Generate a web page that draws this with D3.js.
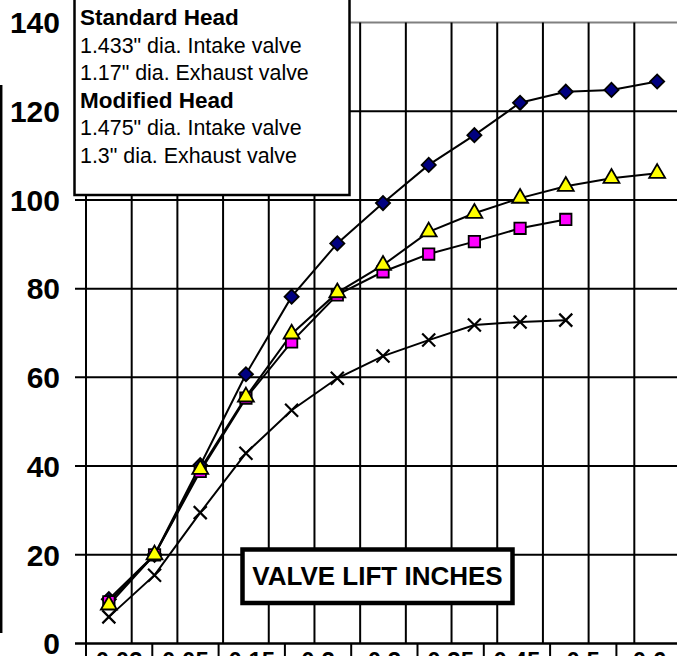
<!DOCTYPE html>
<html>
<head>
<meta charset="utf-8">
<script src="https://cdn.jsdelivr.net/npm/d3@7"></script>
<style>
  body { margin: 0; background: #fff; }
  svg { display: block; font-family: "Liberation Sans", Arial, sans-serif; }
</style>
</head>
<body>
<div id="chart"></div>
<script>
// lift steps (one per grid column)
const steps = ["1", "2", "3", "4", "5", "6", "7", "8", "9", "10", "11", "12", "13"];
// flow values
const diamondVals = [10, 20, 40.2, 60.7, 78.2, 90.2, 99.3, 107.9, 114.6, 121.9, 124.4, 124.8, 126.7];
const squareVals = [9.4, 20, 38.8, 55.3, 68.0, 78.6, 83.8, 87.8, 90.6, 93.6, 95.6];
const triangleVals = [8.7, 20, 39.3, 55.6, 69.8, 79.1, 85.3, 92.8, 97.0, 100.4, 103.1, 104.9, 106.0];
const crossVals = [6.0, 15.4, 29.5, 42.9, 52.6, 59.8, 64.8, 68.4, 71.8, 72.5, 72.9];
const yTicks = [0, 20, 40, 60, 80, 100, 120, 140];
const liftLabels = ["0.03", "0.05", "0.15", "0.2", "0.3", "0.35", "0.45", "0.5", "0.6"];
const legendLines = [
  { text: "Standard Head", bold: true },
  { text: "1.433\" dia. Intake valve", bold: false },
  { text: "1.17\" dia. Exhaust valve", bold: false },
  { text: "Modified Head", bold: true },
  { text: "1.475\" dia. Intake valve", bold: false },
  { text: "1.3\" dia. Exhaust valve", bold: false }
];

const W = 677, H = 656;
const plotLeft = 86, plotRight = 680, plotTop = 22.5, plotBottom = 643.5;

const svg = d3.select("#chart").append("svg")
  .attr("width", W).attr("height", H);
svg.append("rect").attr("width", W).attr("height", H).attr("fill", "#fff");

const x = d3.scaleBand().domain(steps).range([plotLeft, plotRight]);
const y = d3.scaleLinear().domain([0, 140]).range([plotBottom, plotTop]);
const xLab = d3.scaleBand().domain(liftLabels).range([plotLeft, plotLeft + 66.3 * liftLabels.length]);

// odd bar on the far left
svg.append("line").attr("x1", 1.2).attr("x2", 1.2).attr("y1", 85).attr("y2", 633)
  .attr("stroke", "#000").attr("stroke-width", 2.5);

// horizontal grid + ticks
svg.append("g").selectAll("line").data(yTicks.filter(d => d > 0 && d < 140)).join("line")
  .attr("x1", 75).attr("x2", W).attr("y1", d => y(d)).attr("y2", d => y(d))
  .attr("stroke", "#000").attr("stroke-width", 2);

// top border of plot (gray)
svg.append("line").attr("x1", plotLeft).attr("x2", W).attr("y1", y(140)).attr("y2", y(140))
  .attr("stroke", "#808080").attr("stroke-width", 2);

// vertical grid at band edges
svg.append("g").selectAll("line").data(steps.slice(1)).join("line")
  .attr("x1", d => x(d)).attr("x2", d => x(d)).attr("y1", y(140)).attr("y2", y(0))
  .attr("stroke", "#000").attr("stroke-width", 2);

// axes lines
svg.append("line").attr("x1", plotLeft).attr("x2", plotLeft).attr("y1", y(140)).attr("y2", H)
  .attr("stroke", "#000").attr("stroke-width", 2);
svg.append("line").attr("x1", 75).attr("x2", W).attr("y1", y(0)).attr("y2", y(0))
  .attr("stroke", "#000").attr("stroke-width", 2.5);

// y tick labels
svg.append("g").selectAll("text").data(yTicks).join("text")
  .attr("x", 60).attr("y", d => y(d)).attr("dy", "0.36em")
  .attr("text-anchor", "end").attr("font-size", 30).attr("font-weight", "bold")
  .text(d => d);

// bottom label row (cut off at the page edge, as in the original)
svg.append("g").selectAll("line").data(liftLabels).join("line")
  .attr("x1", d => xLab(d) + xLab.bandwidth()).attr("x2", d => xLab(d) + xLab.bandwidth())
  .attr("y1", y(0)).attr("y2", H)
  .attr("stroke", "#000").attr("stroke-width", 2);
svg.append("g").selectAll("text").data(liftLabels).join("text")
  .attr("x", d => xLab(d) + xLab.bandwidth() / 2).attr("y", 669)
  .attr("text-anchor", "middle").attr("font-size", 24).attr("font-weight", "bold")
  .text(d => d);

// series
const series = [
  { vals: diamondVals, kind: "diamond", fill: "#000080" },
  { vals: squareVals, kind: "square", fill: "#ff00ff" },
  { vals: triangleVals, kind: "triangle", fill: "#ffff00" },
  { vals: crossVals, kind: "cross", fill: "none" }
];

const line = d3.line()
  .x((d, i) => x(steps[i]) + x.bandwidth() / 2)
  .y(d => y(d));

series.forEach(s => {
  svg.append("path").datum(s.vals)
    .attr("fill", "none").attr("stroke", "#000").attr("stroke-width", 2)
    .attr("d", line);
});

const sq = d3.symbol(d3.symbolSquare, 130)();
const dia = d3.symbol(d3.symbolSquare, 100)();
const tri = d3.symbol(d3.symbolTriangle, 110)();
const cross = "M-6.5,-6.5L6.5,6.5M-6.5,6.5L6.5,-6.5";

series.forEach(s => {
  const g = svg.append("g");
  g.selectAll("path").data(s.vals).join("path")
    .attr("transform", (d, i) => {
      const t = `translate(${x(steps[i]) + x.bandwidth() / 2},${y(d)})`;
      return s.kind === "diamond" ? t + " rotate(45)" : t;
    })
    .attr("d", s.kind === "square" ? sq : s.kind === "diamond" ? dia : s.kind === "triangle" ? tri : cross)
    .attr("fill", s.fill)
    .attr("stroke", "#000")
    .attr("stroke-width", s.kind === "cross" ? 2.2 : 1.8);
});

// legend text box
svg.append("rect").attr("x", 74.5).attr("y", -10).attr("width", 275).attr("height", 205)
  .attr("fill", "#fff").attr("stroke", "#000").attr("stroke-width", 2.5);
svg.append("g").selectAll("text").data(legendLines).join("text")
  .attr("x", 80).attr("y", (d, i) => 25 + i * 27.6)
  .attr("font-size", d => d.bold ? 22.5 : 21.4)
  .attr("font-weight", d => d.bold ? "bold" : "normal")
  .text(d => d.text);

// axis title box
svg.append("rect").attr("x", 242.5).attr("y", 549.5).attr("width", 270).attr("height", 53.5)
  .attr("fill", "#fff").attr("stroke", "#000").attr("stroke-width", 4.5);
svg.append("text").attr("x", 377.5).attr("y", 585)
  .attr("text-anchor", "middle").attr("font-size", 26).attr("font-weight", "bold")
  .text("VALVE LIFT INCHES");
</script>
</body>
</html>
